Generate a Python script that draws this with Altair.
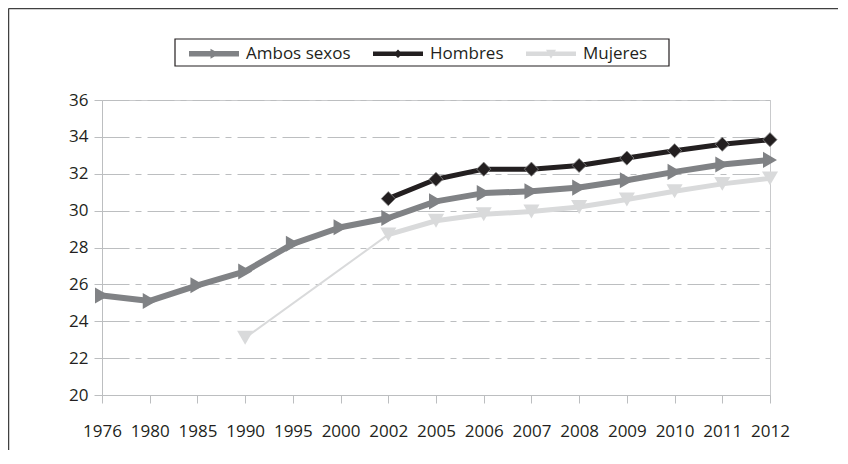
import altair as alt
import pandas as pd

years = ["1976", "1980", "1985", "1990", "1995", "2000", "2002", "2005",
         "2006", "2007", "2008", "2009", "2010", "2011", "2012"]
ambos = [25.4, 25.1, 25.95, 26.7, 28.2, 29.1, 29.6, 30.5,
         30.95, 31.05, 31.25, 31.65, 32.1, 32.5, 32.75]
hombres = [None, None, None, None, None, None, 30.65, 31.7,
           32.25, 32.25, 32.45, 32.85, 33.25, 33.6, 33.85]
mujeres = [None, None, None, 23.1, None, None, 28.7, 29.45,
           29.8, 29.95, 30.2, 30.6, 31.05, 31.45, 31.75]

series = ["Ambos sexos", "Hombres", "Mujeres"]
colors = ["#808285", "#231f20", "#d9dadb"]
y_ticks = list(range(20, 37, 2))

rows = []
for name, vals in zip(series, [ambos, hombres, mujeres]):
    for yr, v in zip(years, vals):
        if v is not None:
            rows.append({"anio": yr, "serie": name, "valor": v})
df = pd.DataFrame(rows)

FONT = "Open Sans"
TXT = "#231f20"
GRID = "#bcbec0"

x_enc = alt.X("anio:O", sort=years,
              scale=alt.Scale(type="point", domain=years, padding=0),
              axis=alt.Axis(title=None, labelAngle=0, tickSize=8, labelPadding=20,
                            domainColor=GRID, tickColor=GRID, grid=False,
                            labelFont=FONT, labelFontSize=17, labelColor=TXT))
y_enc = alt.Y("valor:Q", scale=alt.Scale(domain=[20, 36], nice=False, zero=False),
              axis=alt.Axis(title=None, values=y_ticks, tickSize=8, labelPadding=6,
                            domainColor=GRID, tickColor=GRID, grid=True,
                            gridColor=GRID, gridDash=[27, 6, 6, 6], gridWidth=1,
                            labelFont=FONT, labelFontSize=17, labelColor=TXT))
color_scale = alt.Scale(domain=series, range=colors)

base = alt.Chart(df)


def line_layer(name, color, width, extra=""):
    cond = f"datum.serie == '{name}'" + extra
    return base.mark_line(strokeJoin="round", color=color, strokeWidth=width).encode(
        x=x_enc, y=y_enc, order=alt.Order("anio:O")).transform_filter(cond)


line_muj = line_layer("Mujeres", colors[2], 5, " && datum.anio != '1990'")
connector = line_layer("Mujeres", colors[2], 2, " && (datum.anio == '1990' || datum.anio == '2002')")
line_amb = line_layer("Ambos sexos", colors[0], 6)
line_hom = line_layer("Hombres", colors[1], 5)

pts_ambos = base.mark_point(shape="triangle-right", filled=True, size=260,
                            color=colors[0], opacity=1).encode(
    x=x_enc, y=y_enc).transform_filter("datum.serie == 'Ambos sexos'")
pts_hombres = base.mark_point(shape="diamond", filled=True, size=200,
                              fill=colors[1], stroke="#8a8a8a", strokeWidth=0.8,
                              opacity=1).encode(
    x=x_enc, y=y_enc).transform_filter("datum.serie == 'Hombres'")
pts_mujeres = base.mark_point(shape="triangle-down", filled=True, size=260,
                              color=colors[2], opacity=1).encode(
    x=x_enc, y=y_enc).transform_filter("datum.serie == 'Mujeres'")

legend_paths = [
    "M-5,-0.55H5V0.55H-5Z M-0.7,-1L1.1,0L-0.7,1Z",
    "M-5,-0.45H5V0.45H-5Z M0,-0.85L0.85,0L0,0.85L-0.85,0Z",
    "M-5,-0.45H5V0.45H-5Z M-1,-0.8L1,-0.8L0,1Z",
]
# legend-only layer: no rows reach the plot, the legend is built from the scale domain
legend_layer = base.mark_point(filled=True, size=100, strokeWidth=0, opacity=1).encode(
    x=x_enc, y=y_enc,
    color=alt.Color("serie:N", scale=color_scale,
                    legend=alt.Legend(title=None, orient="none", legendX=87, legendY=-55,
                                      direction="horizontal", symbolOffset=16.5,
                                      labelOffset=23.5, columnPadding=22, padding=0,
                                      labelFont=FONT, labelFontSize=17, labelColor=TXT,
                                      symbolStrokeWidth=0, symbolSize=100,
                                      symbolOpacity=1)),
    shape=alt.Shape("serie:N", scale=alt.Scale(domain=series, range=legend_paths)),
).transform_filter("false")

deco = alt.Chart(pd.DataFrame({"k": [0]}))
frame_left = deco.mark_rule(color="#404040", strokeWidth=1.5, clip=False).encode(
    x=alt.value(-93.5), y=alt.value(-91.5), y2=alt.value(400))
frame_top = deco.mark_rule(color="#404040", strokeWidth=1.5, clip=False).encode(
    x=alt.value(-93.5), x2=alt.value(800), y=alt.value(-91.5))
legend_box = deco.mark_rect(fill="transparent", stroke=TXT, strokeWidth=1.2, clip=False).encode(
    x=alt.value(73), x2=alt.value(567), y=alt.value(-61), y2=alt.value(-34))

chart = alt.layer(
    frame_left, frame_top, legend_box,
    connector, line_muj, line_amb, line_hom,
    pts_mujeres, pts_ambos, pts_hombres, legend_layer
).properties(
    width=668, height=295,
    autosize=alt.AutoSizeParams(type="none"),
    padding={"left": 94, "top": 92, "right": 68, "bottom": 55},
    background="white",
).configure_view(stroke="#c9cacc", strokeWidth=1)

chart.save("out.html", embed_options={"renderer": "svg", "actions": False})
